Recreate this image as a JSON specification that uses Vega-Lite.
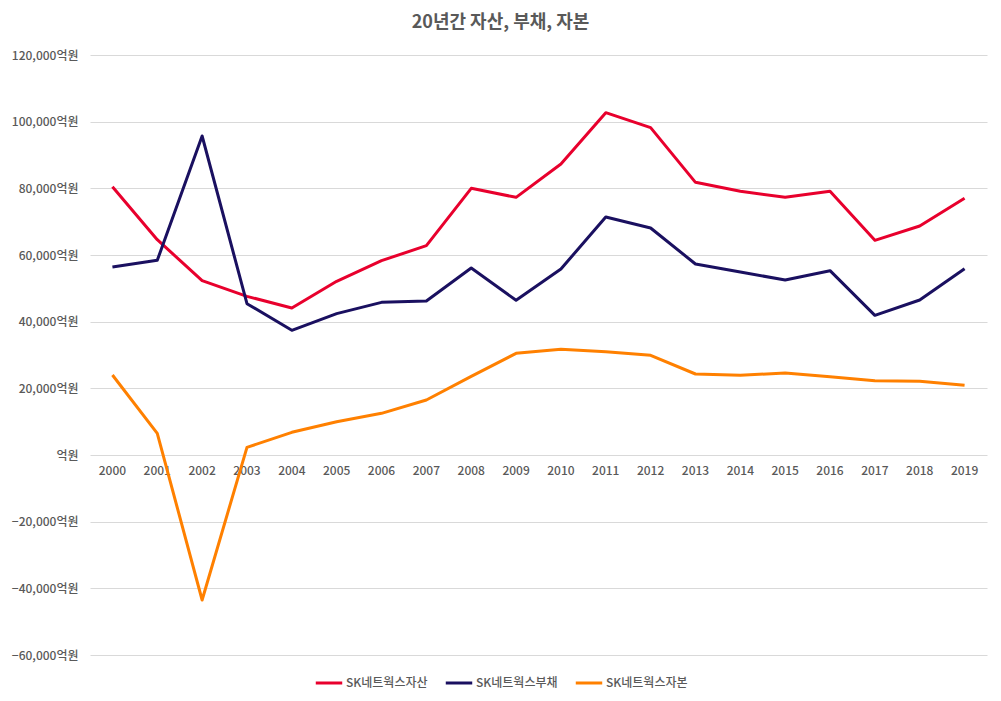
{
  "$schema": "https://vega.github.io/schema/vega-lite/v6.json",
  "autosize": "none",
  "width": 897,
  "height": 600,
  "padding": {"left": 90, "top": 55, "right": 14, "bottom": 46},
  "background": "white",
  "title": {
    "text": "20년간 자산, 부채, 자본",
    "font": "Noto Sans CJK KR",
    "fontSize": 18,
    "fontWeight": "bold",
    "color": "#595959",
    "anchor": "middle",
    "frame": "group",
    "dx": -38,
    "offset": 17
  },
  "config": {
    "view": {"stroke": null},
    "font": "Noto Sans CJK KR",
    "axis": {"labelFont": "Noto Sans CJK KR", "labelColor": "#595959", "labelFontSize": 12, "labelFontWeight": 500},
    "legend": {"labelFont": "Noto Sans CJK KR", "labelColor": "#595959", "labelFontSize": 12, "labelFontWeight": 500}
  },
  "data": {
    "values": [
      {"year": "2000", "series": "SK네트웍스자산", "value": 80500},
      {"year": "2001", "series": "SK네트웍스자산", "value": 64600},
      {"year": "2002", "series": "SK네트웍스자산", "value": 52300},
      {"year": "2003", "series": "SK네트웍스자산", "value": 47600},
      {"year": "2004", "series": "SK네트웍스자산", "value": 44100},
      {"year": "2005", "series": "SK네트웍스자산", "value": 52100},
      {"year": "2006", "series": "SK네트웍스자산", "value": 58300},
      {"year": "2007", "series": "SK네트웍스자산", "value": 62800},
      {"year": "2008", "series": "SK네트웍스자산", "value": 80000},
      {"year": "2009", "series": "SK네트웍스자산", "value": 77300},
      {"year": "2010", "series": "SK네트웍스자산", "value": 87300},
      {"year": "2011", "series": "SK네트웍스자산", "value": 102700},
      {"year": "2012", "series": "SK네트웍스자산", "value": 98200},
      {"year": "2013", "series": "SK네트웍스자산", "value": 81800},
      {"year": "2014", "series": "SK네트웍스자산", "value": 79100},
      {"year": "2015", "series": "SK네트웍스자산", "value": 77300},
      {"year": "2016", "series": "SK네트웍스자산", "value": 79100},
      {"year": "2017", "series": "SK네트웍스자산", "value": 64400},
      {"year": "2018", "series": "SK네트웍스자산", "value": 68700},
      {"year": "2019", "series": "SK네트웍스자산", "value": 77000},
      {"year": "2000", "series": "SK네트웍스부채", "value": 56400},
      {"year": "2001", "series": "SK네트웍스부채", "value": 58400},
      {"year": "2002", "series": "SK네트웍스부채", "value": 95700},
      {"year": "2003", "series": "SK네트웍스부채", "value": 45400},
      {"year": "2004", "series": "SK네트웍스부채", "value": 37400},
      {"year": "2005", "series": "SK네트웍스부채", "value": 42400},
      {"year": "2006", "series": "SK네트웍스부채", "value": 45800},
      {"year": "2007", "series": "SK네트웍스부채", "value": 46200},
      {"year": "2008", "series": "SK네트웍스부채", "value": 56100},
      {"year": "2009", "series": "SK네트웍스부채", "value": 46400},
      {"year": "2010", "series": "SK네트웍스부채", "value": 55800},
      {"year": "2011", "series": "SK네트웍스부채", "value": 71400},
      {"year": "2012", "series": "SK네트웍스부채", "value": 68100},
      {"year": "2013", "series": "SK네트웍스부채", "value": 57300},
      {"year": "2014", "series": "SK네트웍스부채", "value": 54900},
      {"year": "2015", "series": "SK네트웍스부채", "value": 52500},
      {"year": "2016", "series": "SK네트웍스부채", "value": 55300},
      {"year": "2017", "series": "SK네트웍스부채", "value": 41900},
      {"year": "2018", "series": "SK네트웍스부채", "value": 46500},
      {"year": "2019", "series": "SK네트웍스부채", "value": 55900},
      {"year": "2000", "series": "SK네트웍스자본", "value": 24000},
      {"year": "2001", "series": "SK네트웍스자본", "value": 6500},
      {"year": "2002", "series": "SK네트웍스자본", "value": -43500},
      {"year": "2003", "series": "SK네트웍스자본", "value": 2300},
      {"year": "2004", "series": "SK네트웍스자본", "value": 6800},
      {"year": "2005", "series": "SK네트웍스자본", "value": 10000},
      {"year": "2006", "series": "SK네트웍스자본", "value": 12500},
      {"year": "2007", "series": "SK네트웍스자본", "value": 16500},
      {"year": "2008", "series": "SK네트웍스자본", "value": 23600},
      {"year": "2009", "series": "SK네트웍스자본", "value": 30500},
      {"year": "2010", "series": "SK네트웍스자본", "value": 31700},
      {"year": "2011", "series": "SK네트웍스자본", "value": 31000},
      {"year": "2012", "series": "SK네트웍스자본", "value": 29900},
      {"year": "2013", "series": "SK네트웍스자본", "value": 24300},
      {"year": "2014", "series": "SK네트웍스자본", "value": 23900},
      {"year": "2015", "series": "SK네트웍스자본", "value": 24600},
      {"year": "2016", "series": "SK네트웍스자본", "value": 23500},
      {"year": "2017", "series": "SK네트웍스자본", "value": 22300},
      {"year": "2018", "series": "SK네트웍스자본", "value": 22100},
      {"year": "2019", "series": "SK네트웍스자본", "value": 20900}
    ]
  },
  "mark": {"type": "line", "strokeWidth": 3, "strokeJoin": "round"},
  "encoding": {
    "x": {
      "field": "year",
      "type": "ordinal",
      "scale": {"type": "band", "paddingInner": 0, "paddingOuter": 0},
      "axis": {
        "title": null,
        "orient": "bottom",
        "offset": -200,
        "domain": false,
        "ticks": false,
        "grid": false,
        "labelAngle": 0,
        "labelPadding": 10
      }
    },
    "y": {
      "field": "value",
      "type": "quantitative",
      "scale": {"domain": [-60000, 120000], "nice": false, "zero": false},
      "axis": {
        "title": null,
        "values": [-60000, -40000, -20000, 0, 20000, 40000, 60000, 80000, 100000, 120000],
        "labelExpr": "datum.value == 0 ? '억원' : format(datum.value, ',') + '억원'",
        "domain": false,
        "ticks": false,
        "labelPadding": 12,
        "gridColor": "#D9D9D9",
        "gridWidth": 1
      }
    },
    "color": {
      "field": "series",
      "type": "nominal",
      "scale": {
        "domain": ["SK네트웍스자산", "SK네트웍스부채", "SK네트웍스자본"],
        "range": ["#E8002D", "#1A1060", "#FF8000"]
      },
      "legend": {
        "title": null,
        "orient": "none",
        "direction": "horizontal",
        "legendX": 224,
        "legendY": 613,
        "symbolType": "stroke",
        "symbolStrokeWidth": 3,
        "symbolSize": 700,
        "labelOffset": 2,
        "columnPadding": 11
      }
    }
  }
}
